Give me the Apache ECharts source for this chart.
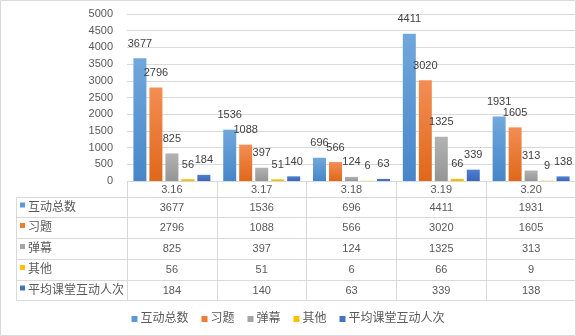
<!DOCTYPE html>
<html><head><meta charset="utf-8">
<script src="https://cdn.jsdelivr.net/npm/echarts@6/dist/echarts.min.js"></script>
<style>html,body{margin:0;padding:0;background:#fff}#c{width:576px;height:336px}</style>
</head><body><div id="c"></div>
<script>
const categories = ['3.16','3.17','3.18','3.19','3.20'];
const seriesNames = ['互动总数','习题','弹幕','其他','平均课堂互动人次'];
const totalInteractions = [3677,1536,696,4411,1931];
const exercises = [2796,1088,566,3020,1605];
const danmaku = [825,397,124,1325,313];
const others = [56,51,6,66,9];
const avgPerClass = [184,140,63,339,138];
const yTicks = {min:0,max:5000,interval:500};

const allValues = [totalInteractions,exercises,danmaku,others,avgPerClass];
const baseColors = ['#5B9BD5','#ED7D31','#A5A5A5','#FFC000','#4472C4'];
const topColors = ['#71A8DC','#F38E54','#B3B3B3','#FFC71A','#5180D0'];
const botColors = ['#4686C8','#E0671A','#959595','#EDB200','#3A66B8'];
const FONT = '"Liberation Sans","Noto Sans CJK SC",sans-serif';

const chart = echarts.init(document.getElementById('c'));
const series = seriesNames.map((n,i)=>({
  name:n,type:'bar',data:allValues[i],barWidth:13,barGap:'23%',
  itemStyle:{color:new echarts.graphic.LinearGradient(0,0,0,1,[{offset:0,color:topColors[i]},{offset:1,color:botColors[i]}])},
  label:{show:true,position:'top',distance:9,fontSize:11,color:'#404040',fontFamily:FONT}
}));
chart.setOption({
  animation:false,
  color:baseColors,
  grid:{left:127,top:14,width:450,height:167,containLabel:false},
  xAxis:{type:'category',data:categories,
    axisLine:{lineStyle:{color:'#d9d9d9'}},
    axisTick:{show:true,length:119,lineStyle:{color:'#d9d9d9'}},
    axisLabel:{margin:2,fontSize:11,lineHeight:14,color:'#595959',fontFamily:FONT}},
  yAxis:{type:'value',min:yTicks.min,max:yTicks.max,interval:yTicks.interval,
    axisLine:{show:false},axisTick:{show:false},
    splitLine:{lineStyle:{color:'#d9d9d9'}},
    axisLabel:{margin:14,fontSize:11,color:'#595959',fontFamily:FONT,formatter:v=>String(v)}},
  legend:{bottom:6,left:'center',icon:'rect',itemWidth:6,itemHeight:6,itemGap:13,
    textStyle:{fontSize:12,color:'#595959',fontFamily:FONT,padding:[0,0,0,-2]},
    data:seriesNames.map((n,i)=>({name:n,itemStyle:{color:baseColors[i]}}))},
  series:series
});

// table
const rowLines=[197,217,238,259,280,300];
const els=[];
els.push({type:'rect',shape:{x:0.5,y:0.5,width:575,height:335},style:{fill:'none',stroke:'#d9d9d9',lineWidth:1},silent:true});
rowLines.forEach(y=>els.push({type:'line',shape:{x1:16,y1:y+0.5,x2:577,y2:y+0.5},style:{stroke:'#d9d9d9',lineWidth:1}}));
els.push({type:'line',shape:{x1:16.5,y1:197,x2:16.5,y2:300},style:{stroke:'#d9d9d9',lineWidth:1}});
seriesNames.forEach((n,r)=>{
  const cy=(rowLines[r]+rowLines[r+1])/2+0.5;
  els.push({type:'rect',shape:{x:20,y:cy-5,width:5,height:5},style:{fill:baseColors[r]}});
  els.push({type:'text',x:28,y:cy,style:{text:n,fill:'#595959',font:'12px '+FONT,verticalAlign:'middle',align:'left'}});
  categories.forEach((c,k)=>{
    const x=chart.convertToPixel({xAxisIndex:0},c);
    els.push({type:'text',x:x,y:cy,style:{text:String(allValues[r][k]),font:'11px '+FONT,fill:'#595959',verticalAlign:'middle',align:'center'}});
  });
});
chart.setOption({graphic:{elements:els}});
</script></body></html>
